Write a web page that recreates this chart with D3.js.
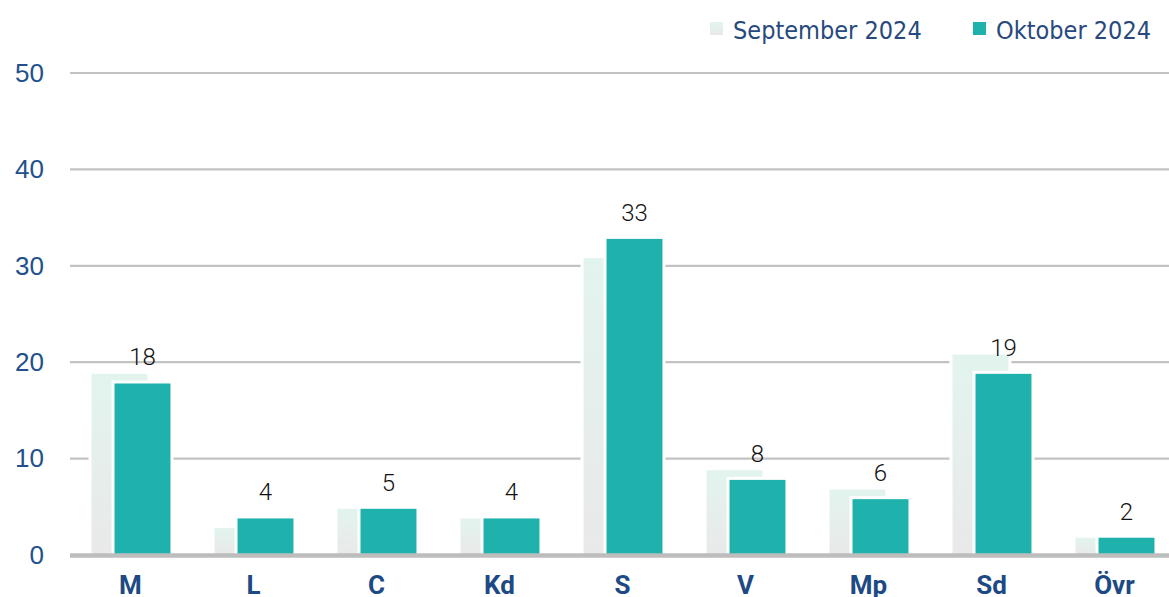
<!DOCTYPE html>
<html>
<head>
<meta charset="utf-8">
<script src="https://cdn.jsdelivr.net/npm/d3@7"></script>
<style>
  body { margin: 0; background: #fff; }
  svg { display: block; }
</style>
</head>
<body>
<svg id="chart"></svg>
<script>
// data
const parties = ["M", "L", "C", "Kd", "S", "V", "Mp", "Sd", "Övr"];
const sep2024 = [19, 3, 5, 4, 31, 9, 7, 21, 2];
const okt2024 = [18, 4, 5, 4, 33, 8, 6, 19, 2];
const yTicks = [0, 10, 20, 30, 40, 50];
const seriesNames = ["September 2024", "Oktober 2024"];

const W = 1169, H = 597;
const svg = d3.select("#chart").attr("width", W).attr("height", H);

const defs = svg.append("defs");
const grad = defs.append("linearGradient")
    .attr("id", "sepGrad")
    .attr("x1", 0).attr("y1", 0).attr("x2", 0).attr("y2", 1);
grad.append("stop").attr("offset", "0%").attr("stop-color", "#e2f4ee");
grad.append("stop").attr("offset", "100%").attr("stop-color", "#e9e9e9");

const x = d3.scaleBand()
    .domain(parties)
    .range([69, 1176]);

const y = d3.scaleLinear()
    .domain([0, 50])
    .range([555, 73]);

const bw = x.bandwidth();
const barW = bw * 0.455;
const sepOff = -bw * 0.317;
const oktOff = -bw * 0.13;

// grid
svg.append("g")
    .selectAll("line")
    .data(yTicks.filter(d => d > 0))
    .enter()
    .append("line")
    .attr("x1", 70)
    .attr("x2", W)
    .attr("y1", d => y(d))
    .attr("y2", d => y(d))
    .attr("stroke", "#c3c3c3")
    .attr("stroke-width", 2.2);

// y axis labels
const yAxis = svg.append("g")
    .attr("transform", "translate(44,0)")
    .call(d3.axisLeft(y).tickValues(yTicks).tickSize(0).tickPadding(0));
yAxis.select(".domain").remove();
yAxis.selectAll("text")
    .style("font-family", "'Liberation Sans', Arial, sans-serif")
    .style("font-size", "26px")
    .attr("fill", "#22508c");

// bars september
svg.append("g")
    .selectAll("rect")
    .data(parties)
    .enter()
    .append("rect")
    .attr("x", (d, i) => x(d) + bw / 2 + sepOff - 1.5)
    .attr("width", barW + 3)
    .attr("y", (d, i) => y(sep2024[i]) + 0.5)
    .attr("height", (d, i) => y(0) - y(sep2024[i]))
    .attr("fill", "url(#sepGrad)")
    .attr("stroke", "#fff")
    .attr("stroke-width", 3);

// bars oktober
svg.append("g")
    .selectAll("rect")
    .data(parties)
    .enter()
    .append("rect")
    .attr("x", (d, i) => x(d) + bw / 2 + oktOff - 1.5)
    .attr("width", barW + 3)
    .attr("y", (d, i) => y(okt2024[i]) + 0.5)
    .attr("height", (d, i) => y(0) - y(okt2024[i]))
    .attr("fill", "#1fb1ac")
    .attr("stroke", "#fff")
    .attr("stroke-width", 3);

// baseline
svg.append("line")
    .attr("x1", 70).attr("x2", W)
    .attr("y1", y(0) + 0.5).attr("y2", y(0) + 0.5)
    .attr("stroke", "#bdbdbd")
    .attr("stroke-width", 4.5);

// value labels
svg.append("g")
    .selectAll("text")
    .data(parties)
    .enter()
    .append("text")
    .attr("x", (d, i) => x(d) + bw / 2 + oktOff + barW / 2)
    .attr("y", (d, i) => y(okt2024[i]) - 16)
    .attr("text-anchor", "middle")
    .style("font-family", "Roboto, sans-serif")
    .style("font-weight", 300)
    .style("font-size", "24px")
    .attr("fill", "#111")
    .text((d, i) => okt2024[i]);

// category labels
svg.append("g")
    .selectAll("text")
    .data(parties)
    .enter()
    .append("text")
    .attr("x", d => x(d) + bw / 2)
    .attr("y", 594)
    .attr("text-anchor", "middle")
    .style("font-family", "Roboto, sans-serif")
    .style("font-weight", 700)
    .style("font-size", "26px")
    .attr("fill", "#1d4a85")
    .text(d => d);

// legend
const legend = svg.append("g");
const legX = [710, 973];
const legFill = ["url(#sepGrad)", "#1fb1ac"];
seriesNames.forEach((name, i) => {
  legend.append("rect")
      .attr("x", legX[i]).attr("y", 22)
      .attr("width", 13).attr("height", 13)
      .attr("fill", legFill[i]);
  legend.append("text")
      .attr("x", legX[i] + 23)
      .attr("y", 39)
      .style("font-family", "'DejaVu Sans Condensed', 'Liberation Sans Narrow', sans-serif")
      .style("font-size", "25px")
      .attr("fill", "#27497d")
      .text(name);
});
</script>
</body>
</html>
